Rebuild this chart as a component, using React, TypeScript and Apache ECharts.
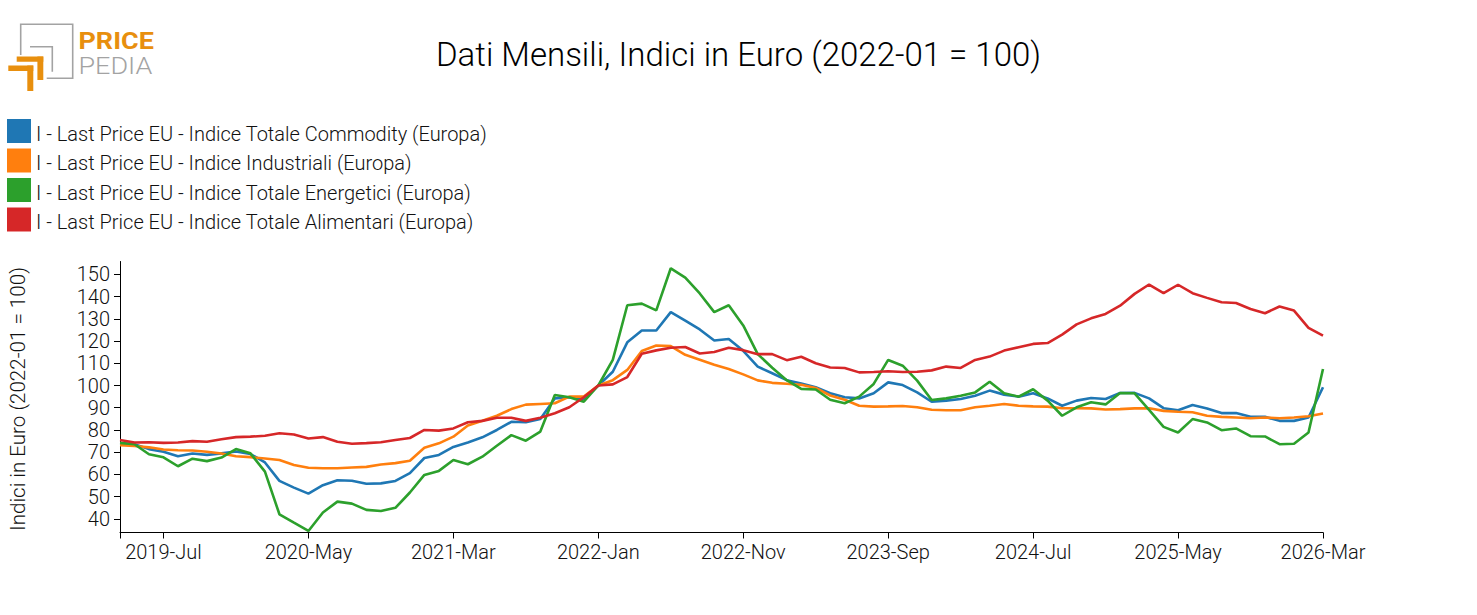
import React, { useEffect, useRef } from "react";
import * as echarts from "echarts";

const TITLE = "Dati Mensili, Indici in Euro (2022-01 = 100)";
const Y_NAME = "Indici in Euro (2022-01 = 100)";

const MONTH_NAMES = ["Jan", "Feb", "Mar", "Apr", "May", "Jun", "Jul", "Aug", "Sep", "Oct", "Nov", "Dec"];
const YEARS = [2019, 2020, 2021, 2022, 2023, 2024, 2025, 2026];
const FIRST = "2019-Apr";
const LAST = "2026-Mar";

const SERIES_NAMES = [
  "I - Last Price EU - Indice Totale Commodity (Europa)",
  "I - Last Price EU - Indice Industriali (Europa)",
  "I - Last Price EU - Indice Totale Energetici (Europa)",
  "I - Last Price EU - Indice Totale Alimentari (Europa)",
];
const COLORS = ["#1f77b4", "#ff7f0e", "#2ca02c", "#d62728"];

const commodity = [
  74.1, 73.6, 71.4, 70.2, 68.2, 69.4, 68.8, 69.5, 70.3, 69.2,
  65.4, 57.1, 54.1, 51.4, 55.2, 57.4, 57.2, 55.8, 56.0, 57.1,
  60.6, 67.4, 68.8, 72.4, 74.4, 76.7, 80.0, 83.7, 83.5, 84.9,
  94.2, 94.7, 93.9, 100, 106.2, 119.4, 124.7, 124.7, 133.0, 129.2,
  125.2, 120.2, 120.9, 115.6, 108.5, 105.5, 102.4, 100.9, 99.2, 96.5,
  94.7, 94.2, 96.5, 101.4, 100.2, 96.9, 92.7, 93.2, 93.9, 95.4,
  97.7, 95.9, 95.0, 96.5, 94.2, 90.9, 93.2, 94.4, 93.9, 96.6,
  96.7, 94.2, 89.8, 88.9, 91.2, 89.7, 87.6, 87.6, 85.9, 85.9,
  84.1, 84.1, 85.6, 99.2,
];

const industriali = [
  73.2, 72.8, 72.2, 71.2, 70.9, 70.8, 70.2, 69.4, 68.2, 67.8,
  67.2, 66.5, 64.3, 63.0, 62.8, 62.8, 63.1, 63.4, 64.5, 65.1,
  66.2, 72.0, 74.0, 77.0, 82.0, 84.2, 86.4, 89.4, 91.4, 91.7,
  92.0, 95.0, 95.0, 100, 102.4, 107.0, 115.5, 118.0, 117.7, 113.8,
  111.6, 109.3, 107.4, 105.0, 102.3, 101.2, 100.8, 100.3, 98.9, 95.5,
  93.6, 90.9, 90.5, 90.6, 90.8, 90.2, 89.1, 88.9, 88.9, 90.2,
  90.9, 91.7, 90.9, 90.6, 90.5, 89.8, 89.8, 89.7, 89.2, 89.4,
  89.7, 89.8, 88.6, 88.2, 88.0, 86.4, 85.9, 85.6, 85.3, 85.6,
  85.3, 85.6, 86.2, 87.4,
];

const energetici = [
  74.2, 73.6, 69.1, 67.7, 63.7, 67.1, 66.0, 67.6, 71.4, 69.5,
  61.3, 42.1, 38.3, 34.6, 42.9, 47.8, 46.9, 44.1, 43.6, 45.0,
  51.9, 59.8, 61.6, 66.5, 64.6, 68.0, 72.9, 77.7, 75.2, 79.3,
  95.7, 94.7, 92.7, 100, 111.5, 136.1, 136.8, 133.8, 152.7, 148.5,
  141.4, 133.0, 136.1, 127.0, 114.1, 108.0, 102.4, 98.5, 98.2, 93.6,
  92.0, 95.0, 100.7, 111.5, 108.9, 102.2, 93.5, 94.2, 95.4, 96.9,
  101.7, 96.5, 95.0, 98.3, 93.2, 86.4, 90.2, 92.5, 91.5, 96.6,
  96.5, 89.0, 81.4, 78.9, 84.9, 83.4, 79.9, 80.7, 77.2, 77.1,
  73.6, 73.8, 78.9, 107.4,
];

const alimentari = [
  75.5, 74.4, 74.5, 74.2, 74.4, 75.0, 74.7, 75.8, 76.8, 77.0,
  77.4, 78.5, 78.0, 76.2, 76.8, 74.7, 73.8, 74.1, 74.5, 75.5,
  76.4, 80.0, 79.7, 80.7, 83.5, 84.1, 85.5, 85.5, 84.1, 85.5,
  87.5, 90.2, 94.7, 100, 100.5, 103.8, 114.3, 115.8, 117.0, 117.3,
  114.4, 115.1, 117.0, 115.9, 114.1, 114.1, 111.4, 112.9, 110.0, 108.1,
  107.9, 105.9, 106.1, 106.4, 106.1, 106.2, 106.8, 108.5, 107.9, 111.5,
  113.0, 115.7, 117.2, 118.7, 119.1, 122.9, 127.5, 130.2, 132.2, 135.9,
  141.2, 145.4, 141.5, 145.3, 141.5, 139.4, 137.4, 137.1, 134.4, 132.5,
  135.5, 133.7, 125.9, 122.4,
];

const SERIES_DATA = [commodity, industriali, energetici, alimentari];

function buildCategories(): string[] {
  const all: string[] = [];
  YEARS.forEach((y) => MONTH_NAMES.forEach((m) => all.push(`${y}-${m}`)));
  return all.slice(all.indexOf(FIRST), all.indexOf(LAST) + 1);
}
const CATEGORIES = buildCategories();

const FONT = "Roboto";
const TEXT_COLOR = "#111";
const ORANGE = "#e88f0e";
const GRAY = "#a3a3a3";

export default function App() {
  const ref = useRef<HTMLDivElement>(null);

  useEffect(() => {
    if (!ref.current) return;
    const chart = echarts.init(ref.current, null, { renderer: "svg" });
    const labelStyle = { fontFamily: FONT, fontSize: 20, fontWeight: 300, color: TEXT_COLOR };
    const option: any = {
      animation: false,
      textStyle: { fontFamily: FONT },
      legend: {
        orient: "vertical",
        left: 7,
        top: 119,
        padding: 0,
        itemWidth: 24,
        itemHeight: 24,
        itemGap: 5,
        icon: "rect",
        selectedMode: false,
        formatter: (name: string) => `{t|${name}}`,
        textStyle: { ...labelStyle, rich: { t: { ...labelStyle, padding: [5, 0, 0, 0] } } },
        data: SERIES_NAMES,
      },
      grid: { left: 120, right: 154, top: 261.5, bottom: 82.5, containLabel: false, outerBoundsMode: "none" },
      xAxis: {
        type: "category",
        data: CATEGORIES,
        boundaryGap: false,
        axisLine: { show: true, lineStyle: { color: "#000", width: 1 } },
        axisTick: {
          show: true,
          length: 6,
          interval: (i: number) => i === 0 || (i - 3) % 10 === 0,
          lineStyle: { color: "#000", width: 1 },
        },
        axisLabel: { ...labelStyle, margin: 9, interval: (i: number) => (i - 3) % 10 === 0 },
        splitLine: { show: false },
      },
      yAxis: {
        type: "value",
        min: (v: any) => v.min * 0.98,
        max: (v: any) => v.max * 1.02,
        splitNumber: 12,
        minInterval: 10,
        maxInterval: 10,
        axisLine: { show: true, lineStyle: { color: "#000", width: 1 } },
        axisTick: { show: true, length: 6, lineStyle: { color: "#000", width: 1 } },
        axisLabel: { ...labelStyle, margin: 10, showMinLabel: false, showMaxLabel: false },
        splitLine: { show: false },
      },
      series: SERIES_NAMES.map((name, k) => ({
        name,
        type: "line",
        data: SERIES_DATA[k],
        symbol: "none",
        showSymbol: false,
        lineStyle: { width: 2.6, color: COLORS[k] },
        itemStyle: { color: COLORS[k] },
      })),
      graphic: [
        {
          type: "text",
          x: 738.5,
          y: 54.5,
          style: {
            text: TITLE,
            fontFamily: FONT,
            fontSize: 33,
            fontWeight: 300,
            fill: "#000",
            align: "center",
            verticalAlign: "middle",
          },
        },
        {
          type: "text",
          x: 17.5,
          y: 399,
          rotation: Math.PI / 2,
          style: {
            text: Y_NAME,
            fontFamily: FONT,
            fontSize: 20.6,
            fontWeight: 300,
            fill: TEXT_COLOR,
            align: "center",
            verticalAlign: "middle",
          },
        },
        {
          type: "group",
          children: [
            {
              type: "polyline",
              shape: { points: [[20.7, 55], [20.7, 24.3], [72.7, 24.3], [72.7, 78.3], [46.7, 78.3]] },
              style: { stroke: GRAY, lineWidth: 1.6, fill: "none" },
            },
            {
              type: "polyline",
              shape: { points: [[30, 46.7], [52.3, 46.7], [52.3, 71.7]] },
              style: { stroke: GRAY, lineWidth: 1.6, fill: "none" },
            },
            { type: "rect", shape: { x: 16.7, y: 56.5, width: 26.6, height: 5.3 }, style: { fill: ORANGE } },
            { type: "rect", shape: { x: 37.4, y: 56.5, width: 5.9, height: 23.5 }, style: { fill: ORANGE } },
            { type: "rect", shape: { x: 8.3, y: 65.5, width: 25, height: 5.5 }, style: { fill: ORANGE } },
            { type: "rect", shape: { x: 27.3, y: 65.5, width: 6, height: 25.5 }, style: { fill: ORANGE } },
            {
              type: "text",
              x: 78.5,
              y: 40.2,
              scaleX: 1.1,
              style: {
                text: "PRICE",
                fontFamily: FONT,
                fontSize: 24.5,
                fontWeight: "bold",
                fill: ORANGE,
                align: "left",
                verticalAlign: "middle",
              },
            },
            {
              type: "text",
              x: 78.5,
              y: 65,
              scaleX: 1.1,
              style: {
                text: "PEDIA",
                fontFamily: FONT,
                fontSize: 24.5,
                fontWeight: 300,
                fill: GRAY,
                align: "left",
                verticalAlign: "middle",
              },
            },
          ],
        },
      ],
    };
    chart.setOption(option);
    return () => chart.dispose();
  }, []);

  return (
    <div
      ref={ref}
      style={{ position: "absolute", left: 0, top: 0, width: 1477, height: 615, background: "#fff" }}
    />
  );
}
